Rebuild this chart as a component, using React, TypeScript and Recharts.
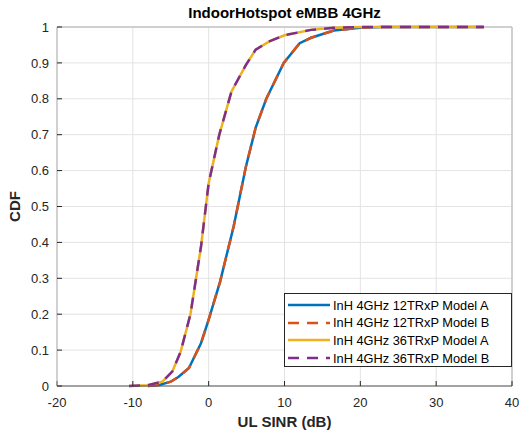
import React from 'react';
import { LineChart, Line, XAxis, YAxis, CartesianGrid, ReferenceLine } from 'recharts';

// SINR (dB) sample points and CDF values
const sinr12 = [-8.0, -6.5, -5.0, -4.0, -2.6, -1.0, 0.0, 1.5, 3.3, 4.9, 6.2, 7.6, 9.9, 12.0, 13.5, 16.5, 20.0, 23.0, 36.3];
const cdf12 = [0, 0.003, 0.012, 0.025, 0.05, 0.12, 0.185, 0.29, 0.445, 0.61, 0.72, 0.8, 0.9, 0.955, 0.97, 0.99, 0.998, 1.0, 1.0];

const sinr36 = [-10.5, -8.1, -6.1, -4.8, -3.7, -2.4, -1.0, 0.0, 1.4, 3.0, 4.9, 6.2, 8.0, 10.0, 13.5, 16.5, 20.0, 36.3];
const cdf36 = [0, 0.002, 0.012, 0.04, 0.095, 0.2, 0.39, 0.565, 0.7, 0.82, 0.894, 0.937, 0.96, 0.977, 0.992, 0.998, 1.0, 1.0];

const xTicks = [-20, -10, 0, 10, 20, 30, 40];
const yTicks = [0, 0.1, 0.2, 0.3, 0.4, 0.5, 0.6, 0.7, 0.8, 0.9, 1];

const seriesNames = [
  'InH 4GHz 12TRxP Model A',
  'InH 4GHz 12TRxP Model B',
  'InH 4GHz 36TRxP Model A',
  'InH 4GHz 36TRxP Model B',
];

const toRows = (xs: number[], ys: number[]) => xs.map((x, i) => ({ x, y: ys[i] }));

const data12 = toRows(sinr12, cdf12);
const data36 = toRows(sinr36, cdf36);

const series = [
  { name: seriesNames[0], data: data12, color: '#0072BD', dash: undefined },
  { name: seriesNames[1], data: data12, color: '#D95319', dash: '11 8' },
  { name: seriesNames[2], data: data36, color: '#EDB120', dash: undefined },
  { name: seriesNames[3], data: data36, color: '#7E2F8E', dash: '11 8' },
];

const FONT = '"Liberation Sans", Arial, Helvetica, sans-serif';
const AXIS = '#262626';
const BOX = '#c4c4c4';

function ChartLegend() {
  return (
    <div
      style={{
        position: 'absolute',
        left: 284,
        top: 293,
        width: 226,
        height: 72,
        border: `1px solid ${AXIS}`,
        background: '#fff',
        fontFamily: FONT,
        fontSize: 12.8,
        color: '#000',
      }}
    >
      {series.map((s, i) => (
        <div key={s.name} style={{ position: 'absolute', left: 0, top: 2 + i * 17.7, height: 18, display: 'flex', alignItems: 'center' }}>
          <svg width={48} height={18}>
            <line x1={3} x2={45} y1={9} y2={9} stroke={s.color} strokeWidth={2.5} strokeDasharray={s.dash} />
          </svg>
          <span style={{ whiteSpace: 'nowrap' }}>{s.name}</span>
        </div>
      ))}
    </div>
  );
}

export default function App() {
  return (
    <div style={{ position: 'absolute', left: 0, top: 0, width: 519, height: 432, background: '#fff' }}>
      <div
        style={{
          position: 'absolute',
          left: 57,
          width: 455,
          top: 4,
          textAlign: 'center',
          fontFamily: FONT,
          fontWeight: 'bold',
          fontSize: 15,
          lineHeight: '17px',
          color: '#000',
        }}
      >
        IndoorHotspot eMBB 4GHz
      </div>
      <LineChart width={519} height={432} margin={{ top: 27, right: 7, bottom: 0, left: 0 }}>
        <CartesianGrid stroke="#e3e3e3" strokeWidth={1} />
        <XAxis
          dataKey="x"
          type="number"
          domain={[-20, 40]}
          ticks={xTicks}
          allowDataOverflow
          height={46}
          axisLine={{ stroke: '#555' }}
          tickLine={{ stroke: AXIS }}
          tickSize={-5}
          tickMargin={17}
          tick={{ fill: AXIS, fontSize: 13, fontFamily: FONT }}
          label={{ value: 'UL SINR (dB)', position: 'insideBottom', offset: 5, fill: AXIS, fontSize: 15, fontWeight: 'bold', fontFamily: FONT }}
        />
        <YAxis
          type="number"
          domain={[0, 1]}
          ticks={yTicks}
          width={57}
          axisLine={{ stroke: '#b0b0b0' }}
          tickLine={{ stroke: AXIS }}
          tickSize={-5}
          tickMargin={13}
          tickFormatter={(v: number) => (v === 0 || v === 1 ? String(v) : v.toFixed(1))}
          tick={{ fill: AXIS, fontSize: 13, fontFamily: FONT }}
          label={{ value: 'CDF', angle: -90, position: 'insideLeft', offset: 15, fill: AXIS, fontSize: 15, fontWeight: 'bold', fontFamily: FONT, style: { textAnchor: 'middle' } }}
        />
        <ReferenceLine y={1} stroke={BOX} strokeWidth={1.5} />
        <ReferenceLine x={40} stroke={BOX} strokeWidth={1.5} />
        {series.map((s) => (
          <Line
            key={s.name}
            data={s.data}
            dataKey="y"
            name={s.name}
            type="linear"
            stroke={s.color}
            strokeWidth={2.5}
            strokeDasharray={s.dash}
            dot={false}
            activeDot={false}
            isAnimationActive={false}
          />
        ))}
      </LineChart>
      <ChartLegend />
    </div>
  );
}
